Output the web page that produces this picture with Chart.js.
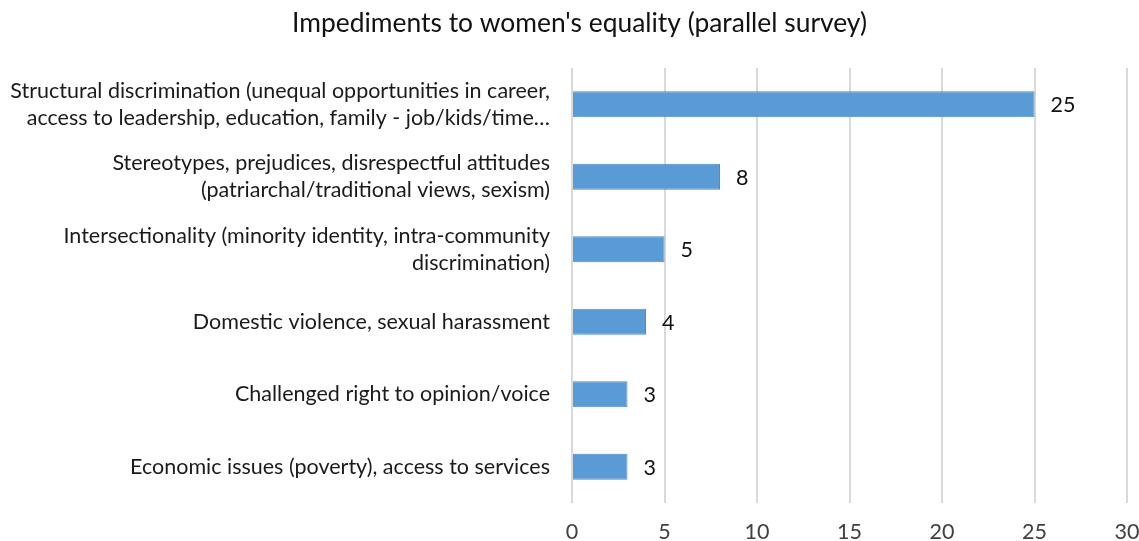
<!DOCTYPE html>
<html>
<head>
<meta charset="utf-8">
<title>Impediments to women's equality</title>
<script src="https://cdn.jsdelivr.net/npm/chart.js@4/dist/chart.umd.min.js"></script>
<style>
  html, body { margin: 0; padding: 0; background: #fff; }
  #wrap { width: 1139px; height: 541px; position: relative; }
</style>
</head>
<body>
<div id="wrap"><canvas id="chart"></canvas></div>
<script>
const chartTitle = "Impediments to women's equality (parallel survey)";

const categories = [
  ['Structural discrimination (unequal opportunities in career,', 'access to leadership, education, family - job/kids/time…'],
  ['Stereotypes, prejudices, disrespectful attitudes', '(patriarchal/traditional views, sexism)'],
  ['Intersectionality (minority identity, intra-community', 'discrimination)'],
  'Domestic violence, sexual harassment',
  'Challenged right to opinion/voice',
  'Economic issues (poverty), access to services'
];
const counts = [25, 8, 5, 4, 3, 3];

const axisMin = 0;
const axisMax = 30;
const axisStep = 5;

const FONT = 'Lato, "Liberation Sans", sans-serif';
const TEXT_SIZE = 21.5;

// title drawn by hand so it can sit a little right of the canvas middle
const titlePlugin = {
  id: 'sheetTitle',
  afterDraw(chart) {
    const { ctx } = chart;
    ctx.save();
    ctx.font = `26.4px ${FONT}`;
    ctx.fillStyle = '#111';
    ctx.textAlign = 'center';
    ctx.textBaseline = 'middle';
    ctx.fillText(chartTitle, chart.width / 2 + 10, 23);
    ctx.restore();
  }
};

// value next to the end of each bar
const valueLabels = {
  id: 'valueLabels',
  afterDatasetsDraw(chart) {
    const { ctx } = chart;
    const meta = chart.getDatasetMeta(0);
    ctx.save();
    ctx.font = `${TEXT_SIZE}px ${FONT}`;
    ctx.fillStyle = '#111';
    ctx.textAlign = 'left';
    ctx.textBaseline = 'middle';
    meta.data.forEach((bar, i) => {
      ctx.fillText(String(counts[i]), bar.x + 16, bar.y + 1);
    });
    ctx.restore();
  }
};

new Chart(document.getElementById('chart'), {
  type: 'bar',
  data: {
    labels: categories,
    datasets: [{
      data: counts,
      backgroundColor: '#5b9bd5',
      borderColor: '#4a8bc9',
      borderWidth: 1,
      barPercentage: 0.36,
      categoryPercentage: 1
    }]
  },
  options: {
    indexAxis: 'y',
    responsive: true,
    maintainAspectRatio: false,
    animation: false,
    layout: { padding: { top: 68, right: 12, bottom: 0, left: 0 } },
    plugins: {
      legend: { display: false },
      title: { display: false },
      tooltip: { enabled: false }
    },
    scales: {
      x: {
        min: axisMin,
        max: axisMax,
        ticks: {
          stepSize: axisStep,
          padding: 16,
          color: '#404040',
          font: { family: FONT, size: TEXT_SIZE }
        },
        grid: { color: '#d9d9d9', lineWidth: 2, drawTicks: false },
        border: { display: false },
        afterFit(s) {
          s.height = 38;
          // end labels may hang over the plot edges
          s.paddingLeft = 0;
          s.paddingRight = 0;
        }
      },
      y: {
        ticks: {
          padding: 22,
          color: '#1a1a1a',
          font: { family: FONT, size: TEXT_SIZE, lineHeight: 1.25 }
        },
        grid: { display: false, drawTicks: false },
        border: { display: false },
        afterFit(s) {
          s.width = 572;
          // labels sit between bars, no extra room needed above/below
          s.paddingTop = 0;
          s.paddingBottom = 0;
        }
      }
    }
  },
  plugins: [titlePlugin, valueLabels]
});
</script>
</body>
</html>
